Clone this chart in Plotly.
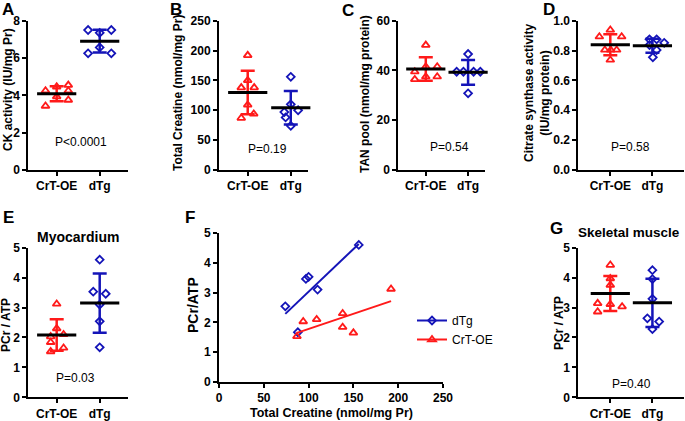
import numpy as np
import plotly.graph_objects as go

# ---------------- data ----------------
groups = ["CrT-OE", "dTg"]

# A: CK activity (IU/mg Pr)
ck_crt = [4.25, 4.46, 4.55, 4.25, 3.93, 3.43, 3.75]
ck_dtg = [7.50, 7.50, 7.35, 6.57, 6.25, 6.25]
# B (and F x): total creatine (nmol/mg Pr), one value per animal
tc_crt = [192, 150, 138, 138, 109, 94, 87]
tc_dtg = [156, 110, 100, 97, 88, 74]
# C: TAN pool (nmol/mg protein)
tan_crt = [50.2, 41.5, 37.5, 39.5, 36.4, 41.5, 37.5]
tan_dtg = [46.6, 39.5, 39.5, 39.5, 39.5, 30.8]
# D: citrate synthase activity (IU/mg protein)
cs_crt = [0.938, 0.893, 0.893, 0.804, 0.804, 0.804, 0.737]
cs_dtg = [0.875, 0.875, 0.852, 0.837, 0.803, 0.755]
# E (and F y): myocardial PCr/ATP, same animals as B
myo_crt = [3.12, 1.65, 2.30, 1.84, 2.10, 2.03, 1.53]
myo_dtg = [4.60, 3.10, 3.53, 3.46, 1.67, 2.54]
# G: skeletal muscle PCr/ATP
sk_crt = [4.42, 3.97, 3.75, 3.14, 2.86, 3.11, 3.03]
sk_dtg = [4.25, 3.95, 3.29, 2.64, 2.53, 2.28]

p_values = {"A": "P<0.0001", "B": "P=0.19", "C": "P=0.54", "D": "P=0.58",
            "E": "P=0.03", "G": "P=0.40"}

# ---------------- layout constants (pixels) ----------------
W, H = 685, 421
FONT = "Liberation Sans, Arial, sans-serif"
RED = "#FF1A1A"
BLUE = "#1414B8"

def px_x(a, b):
    return [a / W, b / W]

def px_y(top, bottom):
    return [1 - bottom / H, 1 - top / H]

# horizontal scatter of points within each column (category units)
jit = {
    "A": ([-0.26, 0, 0.27, 0.27, 0, -0.26, 0.27], [-0.27, 0.27, 0, 0, -0.27, 0.27]),
    "B": ([0, 0, -0.15, 0.15, 0, 0.14, -0.15], [0, 0, 0.17, -0.15, -0.12, 0]),
    "C": ([0, 0, 0, -0.26, -0.26, 0.27, 0.27], [0, -0.27, -0.11, 0.13, 0.29, 0]),
    "D": ([0, -0.26, 0.27, -0.13, 0.01, 0.15, 0], [-0.07, 0.1, 0.28, -0.07, 0.1, 0.01]),
    "E": ([0, 0.16, 0, -0.14, 0.16, -0.14, -0.14], [0, 0, -0.15, 0.14, 0, 0]),
    "G": ([0, 0, 0, -0.3, -0.3, 0, 0.28], [0, 0, 0, -0.12, 0.16, 0]),
}

panels = {
    "A": dict(i=1, xp=(28.3, 128.3), yp=(20.7, 170), xr=[-0.66, 1.665], yr=[0, 8], dt=2,
              data=(ck_crt, ck_dtg), pv=(0.57, 1.5)),
    "B": dict(i=2, xp=(219, 308), yp=(20.7, 170), xr=[-0.667, 1.40], yr=[0, 250], dt=50,
              data=(tc_crt, tc_dtg), pv=(0.45, 35)),
    "C": dict(i=3, xp=(398.3, 485), yp=(20.7, 170), xr=[-0.65, 1.40], yr=[0, 60], dt=20,
              data=(tan_crt, tan_dtg), pv=(0.57, 9.4)),
    "D": dict(i=4, xp=(578.3, 684), yp=(20.7, 170), xr=[-0.76, 1.75], yr=[0, 1.0], dt=0.2,
              data=(cs_crt, cs_dtg), pv=(0.48, 0.156)),
    "E": dict(i=5, xp=(28.3, 128.3), yp=(247.7, 397.3), xr=[-0.66, 1.665], yr=[0, 5], dt=1,
              data=(myo_crt, myo_dtg), pv=(0.43, 0.65)),
    "G": dict(i=7, xp=(578.3, 684), yp=(247.7, 397.3), xr=[-0.76, 1.75], yr=[0, 5], dt=1,
              data=(sk_crt, sk_dtg), pv=(0.5, 0.45)),
}

fig = go.Figure()

def axnames(i):
    return ("x" if i == 1 else f"x{i}"), ("y" if i == 1 else f"y{i}")

def axis_common():
    return dict(showline=True, linecolor="black", linewidth=2, ticks="outside",
                ticklen=4, tickwidth=2, tickcolor="black", showgrid=False,
                zeroline=False, fixedrange=True, automargin=False,
                tickfont=dict(family=FONT, size=12, color="black", weight="bold"))

layout_axes = {}
annotations = []

styles = [(RED, "triangle-up-open", 7), (BLUE, "diamond-open", 6)]

for key, p in panels.items():
    i = p["i"]
    xa, ya = axnames(i)
    for k, (vals, offs) in enumerate(zip(p["data"], jit[key])):
        col, sym, sz = styles[k]
        fig.add_trace(go.Scatter(
            x=[k + o for o in offs], y=vals, mode="markers",
            marker=dict(symbol=sym, size=sz, color=col, line=dict(color=col, width=1.8)),
            xaxis=xa, yaxis=ya, showlegend=False, cliponaxis=False, hoverinfo="y"))
        m = float(np.mean(vals))
        s = float(np.std(vals, ddof=1))
        fig.add_trace(go.Scatter(
            x=[k], y=[m], mode="markers",
            marker=dict(symbol="line-ew", size=28, color="black",
                        line=dict(color="black", width=3)),
            error_y=dict(type="data", array=[s], color=col, thickness=2.5, width=7),
            xaxis=xa, yaxis=ya, showlegend=False, cliponaxis=False, hoverinfo="y"))
    xk = "xaxis" if i == 1 else f"xaxis{i}"
    yk = "yaxis" if i == 1 else f"yaxis{i}"
    xd = axis_common()
    xd.update(domain=px_x(*p["xp"]), range=p["xr"], tickvals=[0, 1], ticktext=groups,
              anchor=ya)
    yd = axis_common()
    yd.update(domain=px_y(*p["yp"]), range=p["yr"], dtick=p["dt"], tick0=0, anchor=xa)
    if key == "D":
        yd.update(tickformat=".1f")
    layout_axes[xk] = xd
    layout_axes[yk] = yd
    annotations.append(dict(text=p_values[key], x=p["pv"][0], y=p["pv"][1], xref=xa, yref=ya,
                            showarrow=False, font=dict(family=FONT, size=12, color="black"),
                            xanchor="center", yanchor="middle"))

# ---------------- panel F: correlation ----------------
xa, ya = axnames(6)
for tc, pcr, col, sym, sz, name in [(tc_dtg, myo_dtg, BLUE, "diamond-open", 6, "dTg"),
                                    (tc_crt, myo_crt, RED, "triangle-up-open", 7, "CrT-OE")]:
    fig.add_trace(go.Scatter(
        x=tc, y=pcr, mode="markers",
        marker=dict(symbol=sym, size=sz, color=col, line=dict(color=col, width=1.8)),
        xaxis=xa, yaxis=ya, showlegend=False, cliponaxis=False))
    slope, icpt = np.polyfit(tc, pcr, 1)
    xs = np.array([min(tc), max(tc)], dtype=float)
    fig.add_trace(go.Scatter(
        x=xs, y=slope * xs + icpt, mode="lines", line=dict(color=col, width=2),
        xaxis=xa, yaxis=ya, showlegend=False, hoverinfo="skip"))
    fig.add_trace(go.Scatter(
        x=[None], y=[None], mode="lines+markers", name=name,
        line=dict(color=col, width=2),
        marker=dict(symbol=sym, size=sz, color=col, line=dict(color=col, width=1.8)),
        xaxis=xa, yaxis=ya, showlegend=True))

xd = axis_common()
xd.update(domain=px_x(219, 443), range=[0, 250], dtick=50, tick0=0, anchor=ya)
yd = axis_common()
yd.update(domain=px_y(233, 382), range=[0, 5], dtick=1, tick0=0, anchor=xa)
layout_axes["xaxis6"] = xd
layout_axes["yaxis6"] = yd

# ---------------- text annotations (paper, pixel-placed) ----------------
def pa(text, x, y, size=12, bold=True, angle=0, xanchor="center", yanchor="middle"):
    annotations.append(dict(text=text, x=x / W, y=1 - y / H, xref="paper", yref="paper",
                            showarrow=False, textangle=angle, xanchor=xanchor,
                            yanchor=yanchor,
                            font=dict(family=FONT, size=size, color="black",
                                      weight="bold" if bold else "normal")))

# panel letters
for letter, x, y in [("A", 0, 10), ("B", 168, 10), ("C", 340, 11), ("D", 541, 10),
                     ("E", 1, 218), ("F", 183, 218), ("G", 548, 228)]:
    pa(letter, x, y, size=17, xanchor="left")

# y-axis titles
pa("CK activity (IU/mg Pr)", 8, 90, angle=-90)
pa("Total Creatine (nmol/mg Pr)", 178, 93, angle=-90)
pa("TAN pool (nmol/mg protein)", 365, 94, angle=-90)
pa("Citrate synthase activity<br>(IU/mg protein)", 537, 93, angle=-90)
pa("PCr / ATP", 6, 325, angle=-90)
pa("PCr/ATP", 193, 305, size=14, angle=-90)
pa("PCr / ATP", 559, 323, angle=-90)
pa("Total Creatine (nmol/mg Pr)", 331, 413, size=12.5)

# panel titles
pa("Myocardium", 78, 237, size=14)
pa("Skeletal muscle", 576, 233, size=13.5, xanchor="left")

fig.update_layout(
    template="none",
    width=W, height=H, margin=dict(l=0, r=0, t=0, b=0, pad=0),
    paper_bgcolor="white", plot_bgcolor="white",
    font=dict(family=FONT, size=12, color="black"),
    annotations=annotations,
    legend=dict(x=412 / W, y=1 - 306 / H, xanchor="left", yanchor="top",
                bgcolor="rgba(0,0,0,0)", font=dict(family=FONT, size=12, color="black"),
                itemwidth=30, tracegroupgap=0),
    **layout_axes,
)

# remove the browser's default 8px page margin so the figure sits at the window origin
fig.write_html("out.html", config={"displayModeBar": False},
               post_script="document.body.style.margin='0px';")
